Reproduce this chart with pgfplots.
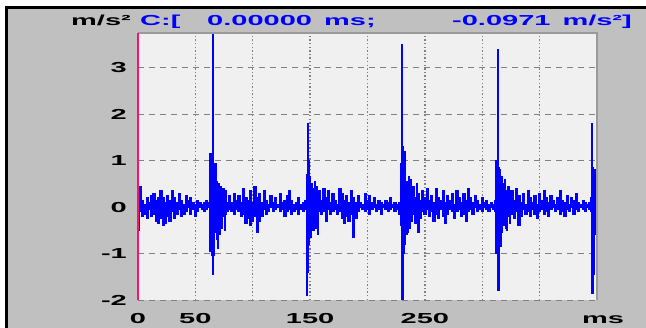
\documentclass[border=0pt]{standalone}
\usepackage{fontspec}
\usepackage{pgfplots}
\usepackage{pgfplotstable}
\pgfplotsset{compat=1.18}
\newfontfamily\wf{Liberation Sans Bold}[FakeStretch=2.0]
\definecolor{wingray}{HTML}{C0C0C0}
\definecolor{plotbg}{HTML}{F0F0F0}
\definecolor{gridc}{HTML}{808080}
\definecolor{brd}{HTML}{9A9A9A}
\definecolor{pinkc}{HTML}{FF1070}
\definecolor{sig}{HTML}{0000FF}
% upper (u) and lower (l) envelope of the signal, per time step (ms)
\pgfplotstableread{
x u l
0 0.40 -0.50
1.5 0.45 -0.10
3 0.15 -0.20
5 0.05 -0.15
7 0.20 -0.25
9 0.10 -0.05
11 0.25 -0.20
13 0.30 -0.15
15 0.15 -0.30
17 0.20 -0.35
19 0.35 -0.25
21 0.20 -0.40
23 0.10 -0.35
25 0.25 -0.20
27 0.15 -0.30
29 0.35 -0.10
31 0.20 -0.25
33 0.10 -0.15
35 0.30 -0.05
37 0.15 -0.20
39 0.05 -0.15
41 0.25 -0.10
43 0.15 0.00
45 0.20 -0.15
47 0.10 -0.05
49 0.05 -0.20
51 0.15 -0.10
53 0.10 0.00
55 0.05 -0.05
57 0.10 -0.10
59 0.15 -0.05
61 0.10 0.00
62.5 1.15 -0.95
64 1.15 -1.05
65.3 3.90 -1.45
66 0.95 -1.05
67 0.95 -0.55
68 0.55 -0.70
69 0.45 -0.90
70 0.50 -0.45
71 0.35 -0.60
72 0.45 -0.30
73 0.30 -0.45
74 0.40 -0.20
75 0.20 -0.50
76 0.35 -0.15
77.5 0.10 -0.10
79 0.25 -0.05
81 0.10 -0.10
83 0.30 -0.15
85 0.15 -0.05
87 0.25 -0.10
89 0.10 -0.20
91 0.40 -0.15
93 0.20 -0.35
95 0.15 -0.25
97 0.35 -0.40
99 0.10 -0.30
101 0.45 -0.20
103 0.20 -0.55
105 0.30 -0.30
107 0.10 -0.20
109 0.35 -0.05
111 0.15 -0.15
113 0.05 -0.10
115 0.25 0.00
117 0.10 -0.10
119 0.20 -0.05
121 0.05 0.00
123 0.30 -0.10
125 0.10 -0.05
127 0.15 -0.20
129 0.25 -0.10
131 0.35 -0.05
133 0.15 -0.15
135 0.05 -0.10
137 0.10 -0.05
139 0.20 -0.15
141 0.05 -0.05
143 0.10 -0.10
145 0.15 -0.05
146.5 0.50 -0.20
147.2 0.70 -1.90
147.9 1.80 -1.40
148.6 1.00 -0.80
149.5 0.65 -0.55
150.5 0.45 -0.65
151.5 0.50 -0.35
152.5 0.40 -0.50
153.5 0.55 -0.30
154.5 0.30 -0.45
155.5 0.45 -0.20
156.5 0.20 -0.60
157.5 0.35 -0.10
159 0.15 -0.15
161 0.40 -0.10
163 0.20 -0.30
165 0.35 -0.05
167 0.10 -0.15
169 0.30 -0.10
171 0.15 -0.05
173 0.05 -0.15
175 0.40 -0.10
177 0.30 -0.25
179 0.15 -0.35
181 0.25 -0.20
183 0.10 -0.30
185 0.35 -0.15
187 0.20 -0.65
189 0.10 -0.25
191 0.25 -0.10
193 0.10 0.00
195 0.05 -0.05
197 0.30 -0.10
199 0.15 -0.05
201 0.25 -0.15
203 0.10 -0.05
205 0.20 0.00
207 0.05 -0.10
209 0.15 -0.05
211 0.10 -0.15
213 0.05 0.00
215 0.15 -0.05
217 0.10 -0.10
219 0.20 -0.05
221 0.05 0.00
223 0.10 -0.10
225 0.05 -0.05
227 0.10 -0.15
228.5 0.95 -0.40
229.3 0.95 -1.50
230.0 3.50 -2.10
230.7 1.30 -2.10
231.5 1.20 -1.00
232.5 1.20 -0.80
233.5 0.55 -0.60
234.5 0.50 -0.55
235.5 0.65 -0.40
236.5 0.35 -0.45
237.5 0.60 -0.20
238.5 0.25 -0.30
239.5 0.45 -0.15
241 0.20 -0.35
242.5 0.50 -0.20
244 0.30 -0.55
245.5 0.15 -0.25
247 0.35 -0.10
249 0.20 -0.15
251 0.40 -0.05
253 0.15 -0.20
255 0.25 -0.10
257 0.10 -0.30
259 0.40 -0.15
261 0.20 -0.25
263 0.15 -0.05
265 0.35 -0.20
267 0.10 -0.35
269 0.25 -0.15
271 0.15 -0.05
273 0.30 -0.10
275 0.05 -0.25
277 0.35 -0.10
279 0.20 -0.05
281 0.10 -0.20
283 0.30 -0.15
285 0.15 -0.30
287 0.40 -0.10
289 0.20 -0.05
291 0.10 -0.15
293 0.25 0.00
295 0.15 -0.10
297 0.05 -0.05
299 0.20 -0.10
301 0.10 0.00
303 0.15 -0.05
305 0.05 -0.10
307 0.10 0.00
309 0.05 -0.05
310.5 0.15 -0.10
311.5 1.00 -1.00
312.5 1.00 -1.00
313.3 3.40 -1.80
314.0 0.85 -1.80
315 0.80 -0.70
316 0.60 -0.85
317 0.65 -0.55
318 0.50 -0.40
319 0.60 -0.35
320 0.35 -0.45
321 0.30 -0.50
322 0.45 -0.20
323.5 0.20 -0.35
325 0.35 -0.15
327 0.15 -0.25
329 0.40 -0.10
331 0.25 -0.40
333 0.10 -0.20
335 0.30 -0.05
337 0.05 -0.15
339 0.35 -0.10
341 0.20 -0.20
343 0.10 -0.05
345 0.25 -0.15
347 0.05 -0.25
349 0.30 -0.10
351 0.15 -0.05
353 0.35 -0.15
355 0.20 -0.10
357 0.10 -0.20
359 0.25 -0.05
361 0.15 0.00
363 0.05 -0.10
365 0.20 -0.05
367 0.35 -0.15
369 0.15 -0.10
371 0.10 -0.20
373 0.25 -0.05
375 0.05 -0.10
377 0.20 0.00
379 0.15 -0.15
381 0.30 -0.05
383 0.10 -0.10
385 0.05 0.00
387 0.15 -0.05
389 0.10 -0.10
391 0.05 0.00
393 0.10 -0.05
394.5 0.20 -0.10
395.2 1.80 -1.85
395.9 0.85 -1.85
396.6 0.85 -0.70
397.3 0.80 -1.45
398 0.80 -0.60
399 0.30 -0.20
400 0.30 -0.20
}\sigdata
\begin{document}
\begin{tikzpicture}[x=1pt,y=1pt]
\fill[white] (0,0) rectangle (646,328);
\fill[wingray] (6.5,0) rectangle (646,320.5);
\draw[black,line width=2.7pt] (5,320.7) -- (646,320.7);
\draw[black,line width=2.7pt] (6.5,0) -- (6.5,322);
\begin{axis}[
  at={(138pt,28pt)}, anchor=south west,
  scale only axis, width=459pt, height=267pt,
  xmin=0, xmax=400, ymin=-2, ymax=3.75,
  axis background/.style={fill=plotbg},
  axis line style={draw=none},
  xtick={0,50,100,150,200,250,300,350},
  xticklabels={0,50,,150,,250,,},
  ytick={-2,-1,0,1,2,3},
  major tick length=0pt,
  /pgf/number format/assume math mode=true,
  ticklabel style={font=\wf\fontsize{14.5}{15}\selectfont, inner sep=0pt},
  xticklabel style={anchor=base, yshift=-24pt},
  yticklabel style={anchor=east, xshift=-11pt},
  xmajorgrids, ymajorgrids,
  x grid style={gridc, line width=1.4pt, dash pattern=on 1.4pt off 2.2pt},
  y grid style={gridc, line width=0.9pt, dash pattern=on 6pt off 5pt},
  clip mode=individual,
]
\addplot[sig, fill=sig, line width=1pt, const plot] table[x=x, y=u] {\sigdata} \closedcycle;
\addplot[sig, fill=sig, line width=1pt, const plot] table[x=x, y=l] {\sigdata} \closedcycle;
\draw[brd, line width=2.8pt] (axis cs:0,3.75) -- (axis cs:400,3.75) -- (axis cs:400,-2);
\draw[pinkc, line width=2.4pt] (axis cs:0,-2) -- (axis cs:0,3.75);
\end{axis}
\node[font=\wf\fontsize{14.5}{15}\selectfont, anchor=base east, inner sep=0pt] at (131,302) {m/s²};
\begin{scope}[every node/.style={font=\wf\fontsize{14.5}{15}\selectfont, text=sig, inner sep=0pt}]
\node[anchor=base west] at (140,302) {C:[};
\node[anchor=base west] at (207,302) {0.00000};
\node[anchor=base west] at (324,302) {ms;};
\node[anchor=base west] at (452,302) {-0.0971};
\node[anchor=base east] at (632,302) {m/s²]};
\end{scope}
\node[font=\wf\fontsize{14.5}{15}\selectfont, anchor=base, inner sep=0pt] at (603,4) {ms};
\pgfresetboundingbox
\useasboundingbox (0,0) rectangle (646,328);
\end{tikzpicture}
\end{document}
